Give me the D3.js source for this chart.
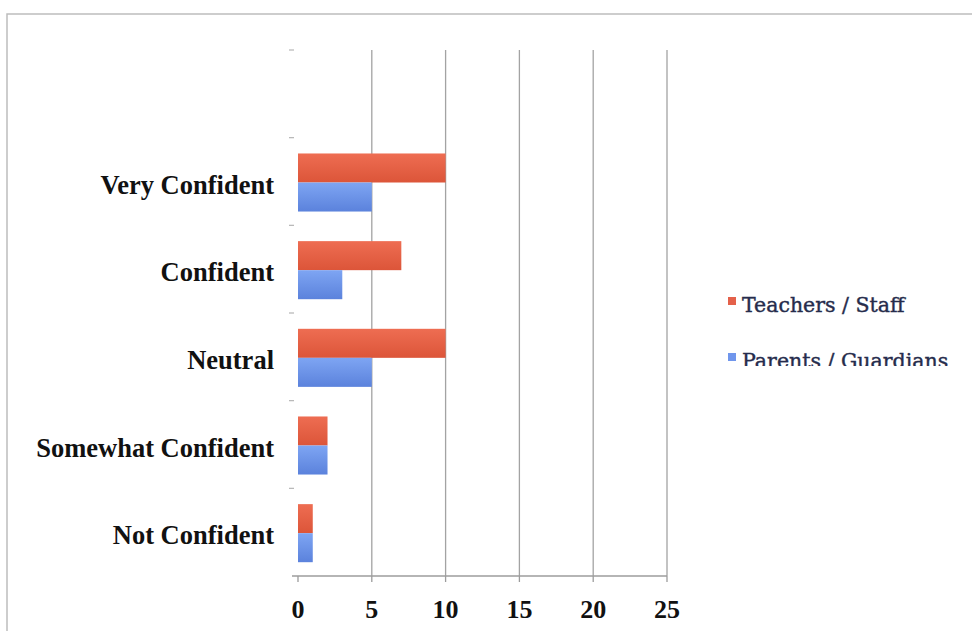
<!DOCTYPE html>
<html>
<head>
<meta charset="utf-8">
<script src="https://cdn.jsdelivr.net/npm/d3@7/dist/d3.min.js"></script>
<style>
  html, body { margin: 0; padding: 0; background: #fff; }
  svg { display: block; }
</style>
</head>
<body>
<div id="chart"></div>
<script>
// Confidence levels, listed top to bottom as they appear on the chart
const categories = ["Very Confident", "Confident", "Neutral", "Somewhat Confident", "Not Confident"];
const seriesNames = ["Teachers / Staff", "Parents / Guardians"];
const teachersStaff = [10, 7, 10, 2, 1];
const parentsGuardians = [5, 3, 5, 2, 1];
const xTicks = [0, 5, 10, 15, 20, 25];

const W = 972, H = 631;
const margin = { top: 50, left: 298, right: W - 667, bottom: H - 576 };

const svg = d3.select("#chart").append("svg")
  .attr("width", W).attr("height", H);

// vertical gradients for the bar fills
const defs = svg.append("defs");
function grad(id, top, bottom) {
  const g = defs.append("linearGradient").attr("id", id)
    .attr("x1", 0).attr("y1", 0).attr("x2", 0).attr("y2", 1);
  g.append("stop").attr("offset", "0%").attr("stop-color", top);
  g.append("stop").attr("offset", "100%").attr("stop-color", bottom);
}
grad("gRed", "#ee6d52", "#dc5539");
grad("gBlue", "#7ea5f3", "#5b82dc");
const fills = ["url(#gRed)", "url(#gBlue)"];
const swatch = ["#e4614a", "#7096ec"];

// outer frame (top and left edges)
svg.append("path")
  .attr("d", `M7,${H} V14 H${W}`)
  .attr("fill", "none").attr("stroke", "#bdbdbd").attr("stroke-width", 1.5);

// scales: an empty band sits above the top category
const x = d3.scaleLinear().domain([0, 25]).range([margin.left, W - margin.right]);
const y = d3.scaleBand()
  .domain(["", ...categories])
  .range([margin.top, H - margin.bottom]);
const inner = d3.scaleBand().domain(seriesNames).range([1, y.bandwidth() + 1]).paddingOuter(0.51);

// vertical gridlines
svg.append("g").selectAll("line")
  .data(xTicks.filter(t => t > 0))
  .join("line")
  .attr("x1", d => x(d)).attr("x2", d => x(d))
  .attr("y1", margin.top).attr("y2", H - margin.bottom)
  .attr("stroke", "#a3a3a3").attr("stroke-width", 1.3);

// category-boundary ticks on the left
const bounds = d3.range(0, y.domain().length + 1).map(i => margin.top + i * y.step());
svg.append("g").selectAll("line")
  .data(bounds.slice(0, -1))
  .join("line")
  .attr("x1", margin.left - 9).attr("x2", margin.left - 4)
  .attr("y1", d => d).attr("y2", d => d)
  .attr("stroke", "#b5b5b5").attr("stroke-width", 1.2);

// bars
const rows = categories.map((c, i) => ({ c, vals: [teachersStaff[i], parentsGuardians[i]] }));
const groups = svg.append("g").selectAll("g")
  .data(rows).join("g")
  .attr("transform", d => `translate(0,${y(d.c)})`);
groups.selectAll("rect")
  .data(d => d.vals.map((v, k) => ({ v, k })))
  .join("rect")
  .attr("x", x(0))
  .attr("y", d => inner(seriesNames[d.k]))
  .attr("width", d => x(d.v) - x(0))
  .attr("height", inner.bandwidth())
  .attr("fill", d => fills[d.k]);

// x axis
const axisY = H - margin.bottom;
svg.append("line")
  .attr("x1", margin.left - 6).attr("x2", x(25))
  .attr("y1", axisY).attr("y2", axisY)
  .attr("stroke", "#9c9c9c").attr("stroke-width", 1.5);
svg.append("g").selectAll("line")
  .data(xTicks).join("line")
  .attr("x1", d => x(d)).attr("x2", d => x(d))
  .attr("y1", axisY).attr("y2", axisY + 6)
  .attr("stroke", "#9c9c9c").attr("stroke-width", 1.3);
svg.append("g").selectAll("text")
  .data(xTicks).join("text")
  .attr("x", d => x(d)).attr("y", 618)
  .attr("text-anchor", "middle")
  .attr("font-family", "'Liberation Serif', serif")
  .attr("font-weight", "bold")
  .attr("font-size", 26)
  .attr("fill", "#111")
  .text(d => d);

// category labels
svg.append("g").selectAll("text")
  .data(categories).join("text")
  .attr("x", 274)
  .attr("y", d => y(d) + y.bandwidth() / 2 + 12)
  .attr("text-anchor", "end")
  .attr("font-family", "'Liberation Serif', serif")
  .attr("font-weight", "bold")
  .attr("font-size", 26.5)
  .attr("fill", "#111")
  .text(d => d);

// legend (bottom of the lower entry is cut off by its box)
defs.append("clipPath").attr("id", "legClip")
  .append("rect").attr("x", 700).attr("y", 270).attr("width", 272).attr("height", 96);
const leg = svg.append("g").attr("clip-path", "url(#legClip)");
const legRowY = [312, 368];
seriesNames.forEach((name, i) => {
  leg.append("rect")
    .attr("x", 728).attr("y", legRowY[i] - 15)
    .attr("width", 8).attr("height", 8)
    .attr("fill", swatch[i]);
  leg.append("text")
    .attr("x", 742).attr("y", legRowY[i])
    .attr("font-family", "'DejaVu Serif', serif")
    .attr("font-size", 20.5)
    .attr("fill", "#262c4c")
    .attr("stroke", "#262c4c").attr("stroke-width", 0.4)
    .text(name);
});
</script>
</body>
</html>
